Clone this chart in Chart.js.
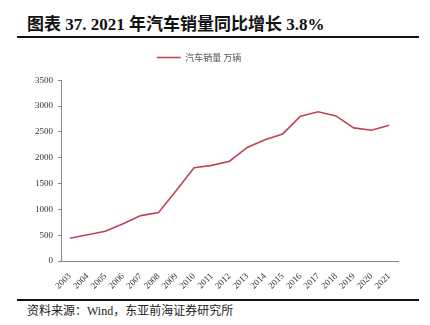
<!DOCTYPE html>
<html>
<head>
<meta charset="utf-8">
<script src="https://cdn.jsdelivr.net/npm/chart.js@4"></script>
<style>
  html, body { margin:0; padding:0; background:#fff; width:430px; height:325px; overflow:hidden; }
  #title { position:absolute; left:27px; top:10px; font: bold 17px "Liberation Serif", "Noto Sans CJK SC", serif; color:#111; white-space:nowrap; }
  .rule { position:absolute; left:17px; width:402px; height:2px; background:#111; }
  #source { position:absolute; left:27px; top:301px; font: 12px "Liberation Serif", "Noto Sans CJK SC", serif; color:#222; white-space:nowrap; }
  #wrap { position:absolute; left:0; top:40px; width:430px; height:250px; }
  canvas { display:block; }
</style>
</head>
<body>
<div id="title">图表 37. 2021 年汽车销量同比增长 3.8%</div>
<div class="rule" style="top:36px"></div>
<div id="wrap"><canvas id="c" width="430" height="250"></canvas></div>
<div class="rule" style="top:299px"></div>
<div id="source">资料来源：Wind，东亚前海证券研究所</div>
<script>
const years = ['2003','2004','2005','2006','2007','2008','2009','2010','2011','2012','2013','2014','2015','2016','2017','2018','2019','2020','2021'];
const sales = [439, 507, 576, 722, 879, 938, 1364, 1806, 1851, 1931, 2198, 2349, 2460, 2803, 2888, 2808, 2577, 2531, 2627];
const seriesName = '汽车销量 万辆';
const yMin = 0, yMax = 3500, yStep = 500;

const tickFont = { family: '"Liberation Serif", "Times New Roman", serif', size: 9 };

new Chart(document.getElementById('c'), {
  type: 'line',
  data: {
    labels: years,
    datasets: [{
      label: seriesName,
      data: sales,
      borderColor: '#c04455',
      backgroundColor: '#c04455',
      borderWidth: 1.6,
      pointRadius: 0,
      tension: 0,
      fill: false
    }]
  },
  options: {
    responsive: false,
    animation: false,
    devicePixelRatio: 1,
    layout: { padding: { top: 5, left: 0, right: 32, bottom: 0 } },
    plugins: {
      legend: {
        display: true,
        position: 'top',
        labels: {
          usePointStyle: true,
          pointStyle: 'line',
          pointStyleWidth: 24,
          color: '#555',
          font: { family: '"Noto Sans CJK SC", sans-serif', size: 9 },
          padding: 8
        }
      },
      subtitle: {
        display: true,
        text: '',
        position: 'top',
        weight: 500,
        font: { size: 1 },
        padding: { top: 0, bottom: 7 }
      },
      tooltip: { enabled: false }
    },
    scales: {
      x: {
        type: 'category',
        offset: true,
        grid: { display: false },
        border: { display: true, color: '#888', width: 1 },
        ticks: { color: '#333', font: tickFont, minRotation: 45, maxRotation: 45, autoSkip: false, padding: 2 },
        afterFit: s => { s.height = 29; }
      },
      y: {
        min: yMin, max: yMax,
        grid: { drawOnChartArea: false, drawTicks: true, tickLength: 3, color: '#888' },
        border: { display: true, color: '#888', width: 1 },
        ticks: { stepSize: yStep, color: '#333', font: tickFont, padding: 5, callback: v => String(v) },
        afterFit: s => { s.width = 61; }
      }
    }
  }
});
</script>
</body>
</html>
